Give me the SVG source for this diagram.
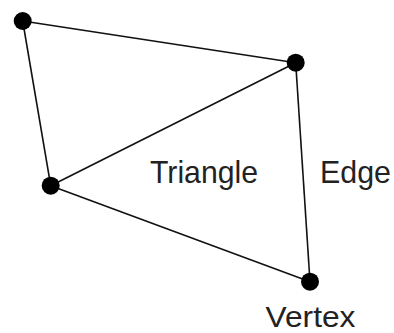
<svg xmlns="http://www.w3.org/2000/svg" width="394" height="333" viewBox="0 0 394 333">
<style>
.e{stroke:#111;stroke-width:1.6;fill:none}
.v{fill:#000}
.t{font-family:"Liberation Sans",Arial,sans-serif;font-size:31.5px;fill:#222}
</style>
<rect width="394" height="333" fill="#fff"/>
<g id="edges">
<line class="e" x1="22.7" y1="21" x2="295.7" y2="62.7"/>
<line class="e" x1="22.7" y1="21" x2="50.7" y2="185.7"/>
<line class="e" x1="295.7" y1="62.7" x2="50.7" y2="185.7"/>
<line class="e" x1="295.7" y1="62.7" x2="310" y2="281.7"/>
<line class="e" x1="50.7" y1="185.7" x2="310" y2="281.7"/>
</g>
<g id="v1"><circle class="v" cx="22.7" cy="21" r="9"/></g>
<g id="v2"><circle class="v" cx="295.7" cy="62.7" r="9"/></g>
<g id="v3"><circle class="v" cx="50.7" cy="185.7" r="9"/></g>
<g id="v4"><circle class="v" cx="310" cy="281.7" r="9"/></g>
<g id="label-triangle"><text class="t" x="150" y="183.3" textLength="108" lengthAdjust="spacingAndGlyphs">Triangle</text></g>
<g id="label-edge"><text class="t" x="320" y="183.3" textLength="71" lengthAdjust="spacingAndGlyphs">Edge</text></g>
<g id="label-vertex"><text class="t" x="265.5" y="326.5" textLength="90" lengthAdjust="spacingAndGlyphs" style="font-size:30px">Vertex</text></g>
</svg>
